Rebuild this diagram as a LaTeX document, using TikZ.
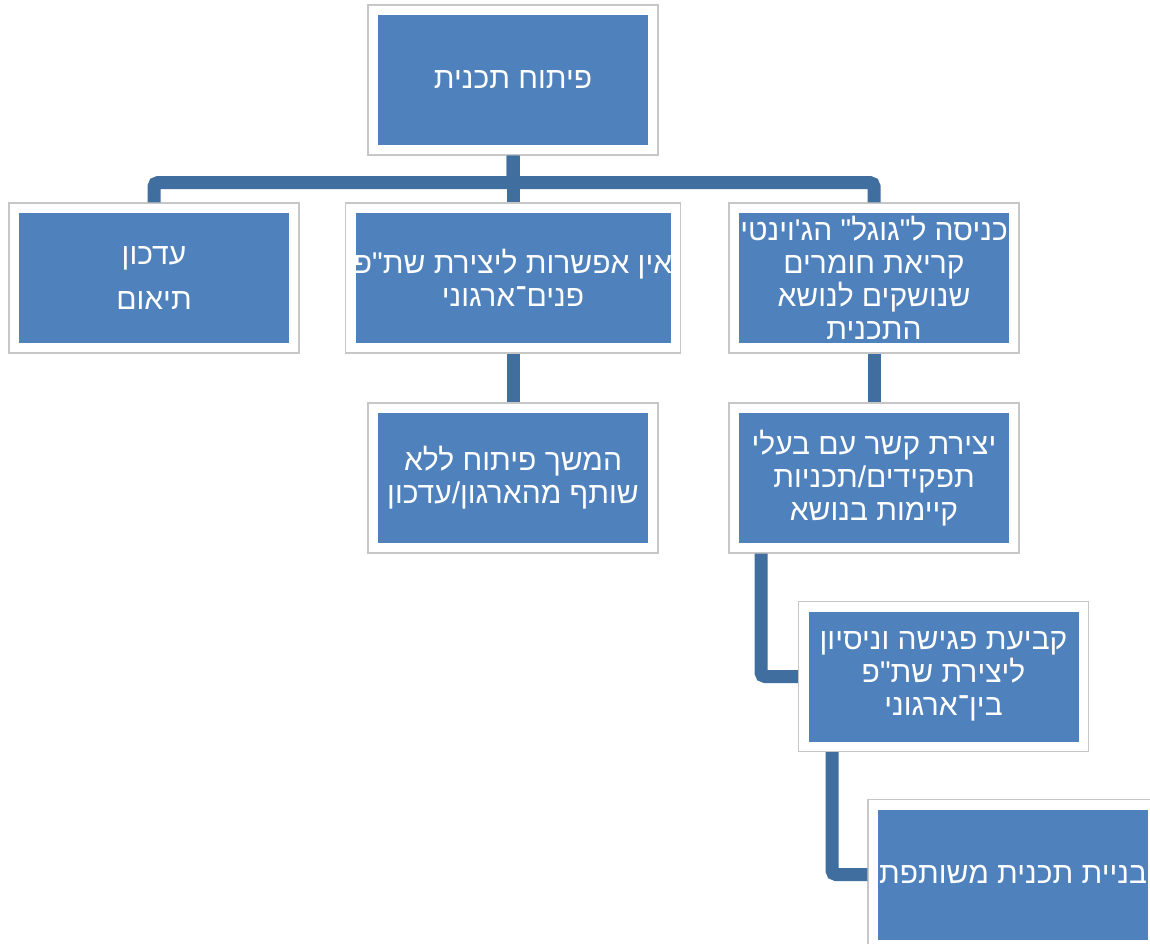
\documentclass[tikz,border=0pt]{standalone}
\usepackage{fontspec}
\newfontfamily\hebfont[Script=Hebrew]{Liberation Sans}
\TeXXeTstate=1
\usetikzlibrary{positioning}
\definecolor{boxblue}{HTML}{4F81BD}
\definecolor{linkblue}{HTML}{3F6E9F}
\newcommand{\heb}[1]{\makebox[0pt]{\hebfont\beginR #1\endR}}
\tikzset{
  card/.style = { rectangle, draw=black!22, line width=1.2pt, fill=white, inner sep=0pt,
    minimum width=290pt, minimum height=150pt, align=center, text=white,
    font=\hebfont\fontsize{30}{33}\selectfont,
    path picture={\fill[boxblue] ([shift={(10pt,-10pt)}]path picture bounding box.north west)
      rectangle ([shift={(-10pt,10pt)}]path picture bounding box.south east);} },
  link/.style = { draw=linkblue, line width=13pt, rounded corners=4pt }
}
\begin{document}
\begin{tikzpicture}[x=1pt,y=-1pt,node distance=198pt,on grid]
  \useasboundingbox (0,0) rectangle (1150,944);
  % root and its three branches
  \node[card] (v0) at (513,80) {\heb{פיתוח תכנית}};
  \node[card, below left=198pt and 359pt of v0] (v1) {\heb{עדכון}\\[12pt]\heb{תיאום}};
  \node[card, minimum width=335pt, below=of v0] (v2) {\heb{אין אפשרות ליצירת שת"פ}\\\heb{פנים־ארגוני}};
  \node[card, below right=198pt and 361pt of v0] (v3) {\heb{כניסה ל"גוגל" הג'וינטי}\\\heb{קריאת חומרים}\\\heb{שנושקים לנושא}\\\heb{התכנית}};
  \node[card, below=200pt of v2] (v4) {\heb{המשך פיתוח ללא}\\\heb{שותף מהארגון/עדכון}};
  \node[card, below=200pt of v3] (v5) {\heb{יצירת קשר עם בעלי}\\\heb{תפקידים/תכניות}\\\heb{קיימות בנושא}};
  \node[card, below right=198.5pt and 69.5pt of v5] (v6) {\heb{קביעת פגישה וניסיון}\\\heb{ליצירת שת"פ}\\\heb{בין־ארגוני}};
  \node[card, below right=198pt and 69.5pt of v6] (v7) {\heb{בניית תכנית משותפת}};
  \draw[link] (v0.south) -- ++(0,27) -| (v1.north);
  \draw[link] (v0.south) -- ++(0,27) -| (v3.north);
  \draw[link] (v0.south) -- (v2.north);
  \draw[link] (v2.south) -- (v4.north);
  \draw[link] (v3.south) -- (v5.north);
  \draw[link] ([xshift=-113pt]v5.south) |- (v6.west);
  \draw[link] ([xshift=-111.5pt]v6.south) |- (v7.west);
\end{tikzpicture}
\end{document}
